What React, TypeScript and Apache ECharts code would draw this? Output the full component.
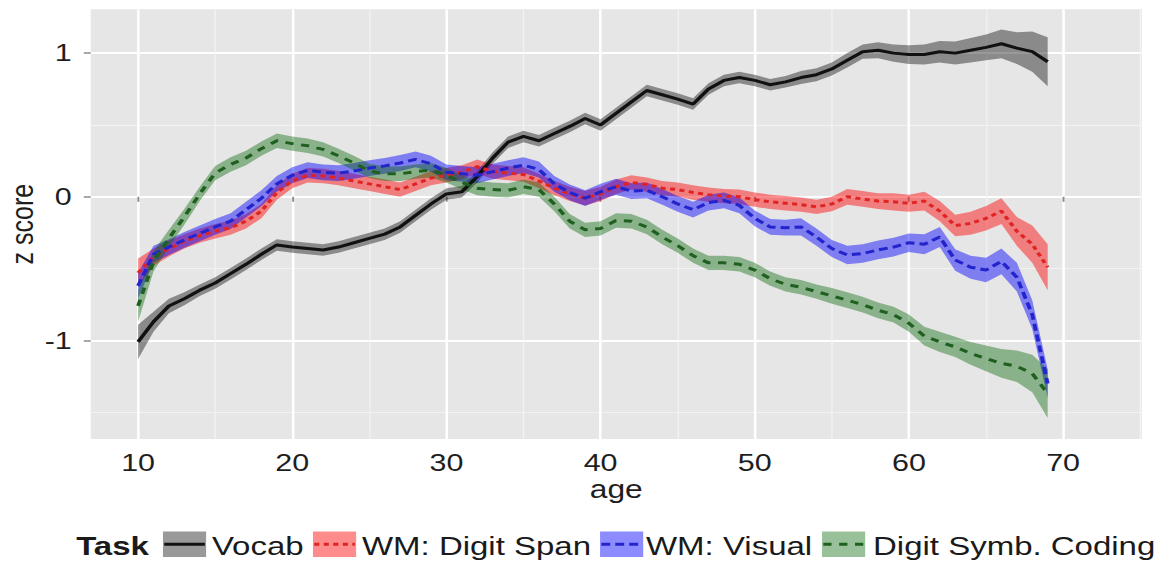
import React, { useEffect, useRef } from "react";
import * as echarts from "echarts";

// ---------------- data ----------------
const ages = [
  10, 11, 12, 13, 14, 15, 16, 17, 18, 19,
  20, 21, 22, 23, 24, 25, 26, 27, 28, 29,
  30, 31, 32, 33, 34, 35, 36, 37, 38, 39,
  40, 41, 42, 43, 44, 45, 46, 47, 48, 49,
  50, 51, 52, 53, 54, 55, 56, 57, 58, 59,
  60, 61, 62, 63, 64, 65, 66, 67, 68, 69,
];

const vocabMean = [
  -1.01, -0.87, -0.76, -0.71, -0.65, -0.6, -0.535, -0.47, -0.4, -0.335,
  -0.35, -0.36, -0.37, -0.35, -0.32, -0.29, -0.26, -0.21, -0.13, -0.05,
  0.02, 0.035, 0.14, 0.27, 0.38, 0.42, 0.39, 0.44, 0.49, 0.545,
  0.5, 0.58, 0.66, 0.74, 0.71, 0.68, 0.645, 0.75, 0.81, 0.83,
  0.81, 0.78, 0.8, 0.83, 0.85, 0.89, 0.95, 1.01, 1.02, 1.0,
  0.99, 0.99, 1.01, 1.0, 1.02, 1.04, 1.065, 1.035, 1.01, 0.94,
];
const vocabSE = [
  0.12, 0.07, 0.05, 0.045, 0.04, 0.04, 0.04, 0.04, 0.04, 0.04,
  0.04, 0.04, 0.04, 0.04, 0.04, 0.04, 0.04, 0.04, 0.04, 0.04,
  0.04, 0.04, 0.04, 0.04, 0.04, 0.04, 0.04, 0.04, 0.04, 0.04,
  0.04, 0.04, 0.04, 0.04, 0.04, 0.04, 0.04, 0.04, 0.04, 0.04,
  0.04, 0.04, 0.04, 0.045, 0.045, 0.045, 0.05, 0.05, 0.055, 0.06,
  0.065, 0.07, 0.075, 0.08, 0.085, 0.09, 0.1, 0.11, 0.14, 0.17,
];

const digitSpanMean = [
  -0.53, -0.42, -0.36, -0.31, -0.27, -0.24, -0.215, -0.17, -0.1, 0.03,
  0.11, 0.15, 0.145, 0.13, 0.11, 0.09, 0.07, 0.05, 0.09, 0.13,
  0.15, 0.17, 0.21, 0.175, 0.165, 0.155, 0.11, 0.06, 0.02, -0.01,
  0.02, 0.07, 0.1, 0.085, 0.06, 0.05, 0.03, 0.015, 0.005, 0.0,
  -0.02, -0.035, -0.045, -0.055, -0.07, -0.05, 0.0, -0.015, -0.03, -0.035,
  -0.045, -0.03, -0.1, -0.2, -0.185, -0.15, -0.1, -0.24, -0.33, -0.49,
];
const digitSpanSE = [
  0.1, 0.06, 0.055, 0.05, 0.05, 0.05, 0.05, 0.05, 0.05, 0.05,
  0.05, 0.05, 0.05, 0.05, 0.05, 0.05, 0.05, 0.05, 0.05, 0.05,
  0.05, 0.05, 0.05, 0.05, 0.05, 0.05, 0.05, 0.05, 0.05, 0.05,
  0.05, 0.05, 0.05, 0.05, 0.05, 0.05, 0.05, 0.05, 0.05, 0.05,
  0.05, 0.05, 0.05, 0.05, 0.05, 0.05, 0.055, 0.055, 0.055, 0.06,
  0.06, 0.065, 0.07, 0.075, 0.08, 0.085, 0.09, 0.1, 0.13, 0.16,
];

const visualMean = [
  -0.62, -0.4, -0.35, -0.3, -0.255, -0.21, -0.17, -0.09, -0.01, 0.09,
  0.15, 0.185, 0.17, 0.165, 0.18, 0.2, 0.215, 0.235, 0.26, 0.23,
  0.17, 0.16, 0.15, 0.175, 0.2, 0.22, 0.19, 0.09, 0.03, -0.01,
  0.035, 0.07, 0.04, 0.045, 0.0, -0.05, -0.09, -0.04, -0.025, -0.06,
  -0.15, -0.21, -0.215, -0.21, -0.28, -0.36, -0.405, -0.395, -0.37, -0.35,
  -0.32, -0.33, -0.28, -0.44, -0.49, -0.51, -0.45, -0.56, -0.82, -1.3,
];
const visualSE = [
  0.09, 0.06, 0.055, 0.055, 0.055, 0.055, 0.055, 0.055, 0.055, 0.055,
  0.055, 0.055, 0.055, 0.055, 0.055, 0.055, 0.055, 0.055, 0.055, 0.055,
  0.055, 0.055, 0.055, 0.055, 0.055, 0.055, 0.055, 0.055, 0.055, 0.055,
  0.055, 0.055, 0.055, 0.055, 0.055, 0.055, 0.055, 0.055, 0.055, 0.055,
  0.055, 0.055, 0.055, 0.06, 0.06, 0.06, 0.065, 0.065, 0.065, 0.065,
  0.065, 0.07, 0.07, 0.075, 0.08, 0.085, 0.09, 0.1, 0.1, 0.1,
];

const codingMean = [
  -0.76, -0.45, -0.29, -0.14, 0.02, 0.165, 0.225, 0.27, 0.335, 0.39,
  0.37, 0.355, 0.33, 0.285, 0.235, 0.18, 0.16, 0.16, 0.175, 0.185,
  0.15, 0.1, 0.06, 0.05, 0.045, 0.07, 0.05, -0.05, -0.17, -0.23,
  -0.22, -0.165, -0.17, -0.21, -0.28, -0.34, -0.41, -0.46, -0.46, -0.47,
  -0.51, -0.57, -0.61, -0.63, -0.66, -0.69, -0.72, -0.75, -0.79, -0.82,
  -0.88, -0.97, -1.01, -1.045, -1.09, -1.125, -1.16, -1.18, -1.23, -1.37,
];
const codingSE = [
  0.11, 0.07, 0.06, 0.055, 0.05, 0.05, 0.05, 0.05, 0.05, 0.05,
  0.05, 0.05, 0.05, 0.05, 0.05, 0.05, 0.05, 0.05, 0.05, 0.05,
  0.05, 0.05, 0.05, 0.05, 0.05, 0.05, 0.05, 0.05, 0.05, 0.05,
  0.05, 0.05, 0.05, 0.05, 0.05, 0.05, 0.05, 0.05, 0.05, 0.05,
  0.05, 0.05, 0.05, 0.05, 0.05, 0.055, 0.055, 0.055, 0.055, 0.055,
  0.06, 0.065, 0.07, 0.07, 0.08, 0.09, 0.1, 0.11, 0.13, 0.17,
];

const taskNames = ["Vocab", "WM: Digit Span", "WM: Visual", "Digit Symb. Coding"];
const legendTitle = "Task";
const xTicks = [10, 20, 30, 40, 50, 60, 70];
const xMinorTicks = [15, 25, 35, 45, 55, 65, 75];
const yTicks = [-1, 0, 1];
const yMinorTicks = [-1.5, -0.5, 0.5];

// ---------------- styles / layout ----------------
const FONT = "'Liberation Sans', Arial, Helvetica, sans-serif";
const CHART_W = 914;
const CHART_H = 562;
const STRETCH = 1160 / CHART_W;

const styles = [
  { line: "#111111", fill: "rgba(0,0,0,0.4)", key: "rgba(0,0,0,0.4)", dash: "solid" as any },
  { line: "#e02424", fill: "rgba(255,0,0,0.45)", key: "rgba(255,0,0,0.45)", dash: [4, 3.5] },
  { line: "#2424cc", fill: "rgba(0,0,255,0.45)", key: "rgba(0,0,255,0.45)", dash: [7, 4] },
  { line: "#1f5f1f", fill: "rgba(0,100,0,0.4)", key: "rgba(0,100,0,0.4)", dash: [6.5, 6] },
];
const legendLayout = [
  { keyX: 128.4, textX: 167.0 },
  { keyX: 246.6, textX: 285.2 },
  { keyX: 472.8, textX: 509.0 },
  { keyX: 647.7, textX: 687.9 },
];

export default function App() {
  const ref = useRef<HTMLDivElement>(null);

  useEffect(() => {
    if (!ref.current) return;
    const chart = echarts.init(ref.current, null, { renderer: "svg" });

    const means = [vocabMean, digitSpanMean, visualMean, codingMean];
    const ses = [vocabSE, digitSpanSE, visualSE, codingSE];

    const series: any[] = [];
    // confidence ribbons: one polygon per task, placed through the axes (api.coord)
    taskNames.forEach((name, i) => {
      const rows = ages.map((a, j) => [
        a,
        +(means[i][j] - ses[i][j]).toFixed(4),
        +(means[i][j] + ses[i][j]).toFixed(4),
      ]);
      series.push({
        name: name + " band",
        type: "custom",
        data: rows,
        encode: { x: 0, y: [1, 2] },
        silent: true,
        z: 1,
        renderItem: (params: any, api: any) => {
          if (params.dataIndex !== 0) return null;
          const upper = rows.map((r) => api.coord([r[0], r[2]]));
          const lower = rows.map((r) => api.coord([r[0], r[1]])).reverse();
          return {
            type: "polygon",
            shape: { points: upper.concat(lower) },
            style: { fill: styles[i].fill, stroke: null },
          };
        },
      });
    });
    taskNames.forEach((name, i) => {
      series.push({
        name,
        type: "line",
        data: ages.map((a, j) => [a, means[i][j]]),
        symbol: "none",
        lineStyle: { color: styles[i].line, width: 3, type: styles[i].dash, cap: "butt" },
        z: 3,
      });
    });

    const textColor = "#1e1e1e";
    const tickStyle = { color: "#8c8c8c", width: 1.5 };

    const graphic: any[] = [
      {
        type: "text",
        x: 60,
        y: 545.5,
        style: {
          text: legendTitle,
          fontFamily: FONT,
          fontSize: 26,
          fontWeight: "bold",
          fill: "#1a1a1a",
          align: "left",
          verticalAlign: "middle",
        },
      },
    ];
    taskNames.forEach((name, i) => {
      const { keyX, textX } = legendLayout[i];
      graphic.push({
        type: "rect",
        shape: { x: keyX, y: 531.5, width: 34, height: 25.5 },
        style: { fill: styles[i].key },
      });
      graphic.push({
        type: "line",
        shape: { x1: keyX + 1, y1: 544.2, x2: keyX + 33, y2: 544.2 },
        style: {
          stroke: styles[i].line,
          lineWidth: 3,
          lineDash: Array.isArray(styles[i].dash) ? styles[i].dash : null,
        },
      });
      graphic.push({
        type: "text",
        x: textX,
        y: 545.5,
        style: {
          text: name,
          fontFamily: FONT,
          fontSize: 26,
          fill: "#1a1a1a",
          align: "left",
          verticalAlign: "middle",
        },
      });
    });

    const option: any = {
      animation: false,
      backgroundColor: "#ffffff",
      grid: {
        left: 71.5,
        right: 14.4,
        top: 9.3,
        bottom: 123,
        containLabel: false,
        outerBoundsMode: "none",
        show: true,
        backgroundColor: "#E6E6E6",
        borderWidth: 0,
      },
      xAxis: [
        {
          type: "value",
          min: 6.93,
          max: 75.1,
          position: "bottom",
          axisLine: { show: false },
          axisTick: { show: true, length: 5, customValues: xTicks, lineStyle: tickStyle },
          axisLabel: {
            customValues: xTicks,
            fontSize: 24,
            fontFamily: FONT,
            color: textColor,
            margin: 12,
          },
          splitLine: { show: true, lineStyle: { color: "#ffffff", width: 2 } },
          name: "age",
          nameLocation: "middle",
          nameGap: 38,
          nameMoveOverlap: false,
          nameTextStyle: { fontSize: 25, fontFamily: FONT, color: textColor },
        },
        {
          type: "value",
          min: 6.93,
          max: 75.1,
          position: "top",
          axisLine: { show: false },
          axisTick: { show: false, customValues: xMinorTicks },
          axisLabel: { show: false, customValues: xMinorTicks },
          splitLine: { show: true, lineStyle: { color: "#F3F3F3", width: 1 } },
        },
      ],
      yAxis: [
        {
          type: "value",
          min: -1.686,
          max: 1.305,
          position: "left",
          axisLine: { show: false },
          axisTick: { show: true, length: 5.5, customValues: yTicks, lineStyle: tickStyle },
          axisLabel: {
            customValues: yTicks,
            fontSize: 24,
            fontFamily: FONT,
            color: textColor,
            margin: 15,
          },
          splitLine: { show: true, lineStyle: { color: "#ffffff", width: 2 } },
          name: "z score",
          nameLocation: "middle",
          nameGap: 42,
          nameRotate: 90,
          nameMoveOverlap: false,
          nameTextStyle: { fontSize: 25, fontFamily: FONT, color: textColor },
        },
        {
          type: "value",
          min: -1.686,
          max: 1.305,
          position: "right",
          axisLine: { show: false },
          axisTick: { show: false, customValues: yMinorTicks },
          axisLabel: { show: false, customValues: yMinorTicks },
          splitLine: { show: true, lineStyle: { color: "#F3F3F3", width: 1 } },
        },
      ],
      series,
      graphic,
    };

    chart.setOption(option);
    return () => chart.dispose();
  }, []);

  return (
    <div
      style={{
        position: "fixed",
        left: 0,
        top: 0,
        width: 1160,
        height: 562,
        overflow: "hidden",
        background: "#ffffff",
      }}
    >
      <div
        ref={ref}
        style={{
          width: CHART_W,
          height: CHART_H,
          transform: `scaleX(${STRETCH})`,
          transformOrigin: "0 0",
        }}
      />
    </div>
  );
}
